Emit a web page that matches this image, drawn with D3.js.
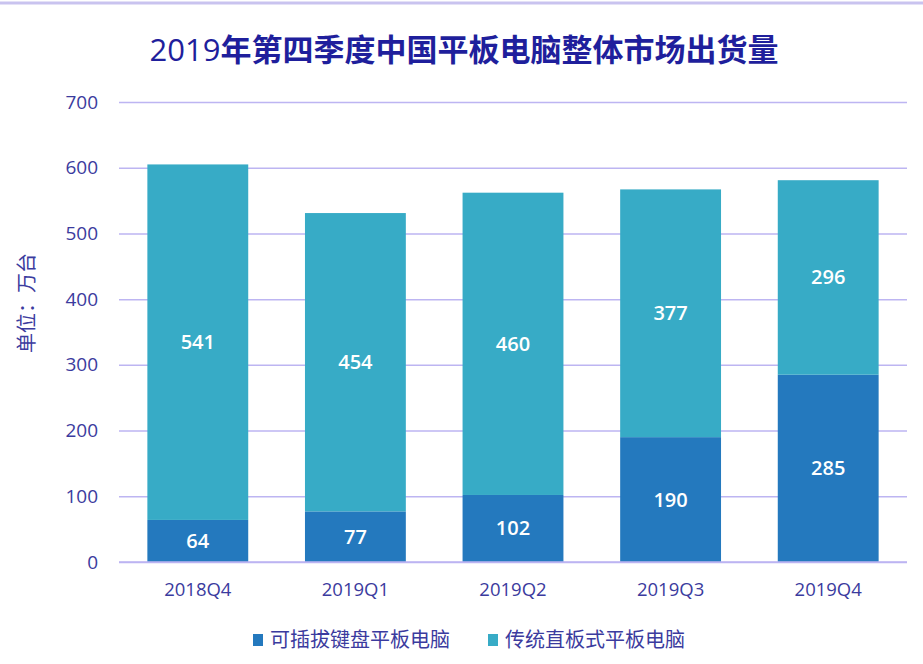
<!DOCTYPE html>
<html><head><meta charset="utf-8">
<script src="https://cdn.jsdelivr.net/npm/d3@7"></script>
<style>body{margin:0;background:#fff;}svg{display:block;font-family:"Open Sans","Noto Sans CJK SC",sans-serif;}</style>
</head><body><svg id="c" width="923" height="664"></svg>
<script>
const categories = ["2018Q4","2019Q1","2019Q2","2019Q3","2019Q4"];
const detachable = [64,77,102,190,285];
const slate = [541,454,460,377,296];
const seriesNames = ["可插拔键盘平板电脑","传统直板式平板电脑"];
const yTicks = [0,100,200,300,400,500,600,700];
const colors = ["#2479be","#37abc6"];

const svg = d3.select("#c");
const cjk = '"Noto Sans CJK SC",sans-serif';
svg.append("line").attr("x1",0).attr("x2",923).attr("y1",3).attr("y2",3).attr("stroke","#c9c3ef").attr("stroke-width",3);

const x = d3.scaleBand().domain(categories).range([119,907]).paddingInner(0.36).paddingOuter(0.18);
const y = d3.scaleLinear().domain([0,700]).range([562,102]);

const yAxis = svg.append("g").attr("transform","translate(119,0)")
  .call(d3.axisLeft(y).tickValues(yTicks).tickSize(-788).tickPadding(21));
yAxis.select(".domain").remove();
yAxis.selectAll(".tick line").attr("stroke","#bdb5f2").attr("stroke-width",1.5);
yAxis.selectAll(".tick text").attr("fill","#3b3b9e").attr("font-size",19).attr("font-family","'Open Sans',sans-serif");

const data = categories.map((c,i)=>({cat:c, vals:[detachable[i], slate[i]]}));
const stack = d3.stack().keys([0,1]).value((d,k)=>d.vals[k])(data);
stack.forEach((layer,li)=>{
  svg.append("g").selectAll("rect").data(layer).join("rect")
    .attr("x",d=>x(d.data.cat)).attr("width",x.bandwidth())
    .attr("y",d=>y(d[1])).attr("height",d=>y(d[0])-y(d[1]))
    .attr("fill",colors[li]);
  svg.append("g").selectAll("text").data(layer).join("text")
    .attr("x",d=>x(d.data.cat)+x.bandwidth()/2)
    .attr("y",d=>(y(d[0])+y(d[1]))/2)
    .attr("dy","0.35em").attr("text-anchor","middle")
    .attr("fill","#fff").attr("font-size",20).attr("font-weight",600)
    .text(d=>d[1]-d[0]);
});

const xAxis = svg.append("g").attr("transform","translate(0,562)")
  .call(d3.axisBottom(x).tickSize(0).tickPadding(21));
xAxis.select(".domain").attr("stroke","#bdb5f2").attr("stroke-width",1.5).attr("d","M119,0H907");
xAxis.selectAll(".tick text").attr("fill","#3b3b9e").attr("font-size",18.5).attr("font-family","'Open Sans',sans-serif");

const t = svg.append("text").attr("x",464).attr("y",61).attr("text-anchor","middle")
  .attr("fill","#1f1f9c").attr("font-size",31);
t.append("tspan").attr("font-family","'Open Sans',sans-serif").text("2019");
t.append("tspan").attr("font-family",cjk).attr("font-weight",700).text("年第四季度中国平板电脑整体市场出货量");

svg.append("text").attr("transform","translate(34,303) rotate(-90)").attr("text-anchor","middle")
  .attr("fill","#3b3b9e").attr("font-size",20).attr("font-family",cjk).text("单位：万台");

const legX = [253, 488];
seriesNames.forEach((n,i)=>{
  const g = svg.append("g").attr("transform",`translate(${legX[i]},640)`);
  g.append("rect").attr("x",0).attr("y",-6).attr("width",10).attr("height",12).attr("fill",colors[i]);
  g.append("text").attr("x",17).attr("y",0).attr("dy","0.35em").attr("fill","#3b3b9e")
    .attr("font-size",20).attr("font-family",cjk).text(n);
});
</script></body></html>
